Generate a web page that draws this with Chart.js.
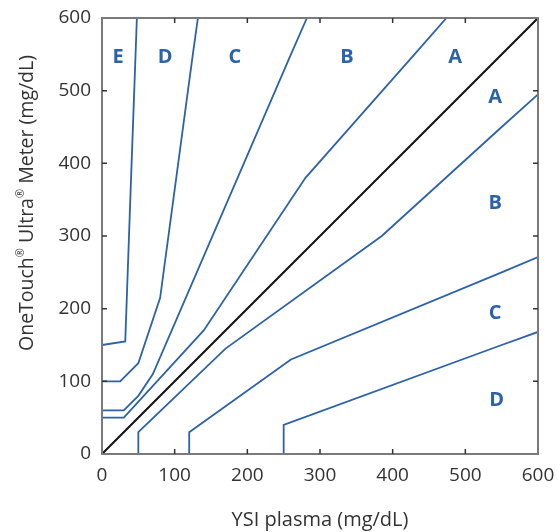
<!DOCTYPE html>
<html>
<head>
<meta charset="utf-8">
<script src="https://cdn.jsdelivr.net/npm/chart.js@4.4.1/dist/chart.umd.min.js"></script>
<style>
  html, body { margin: 0; padding: 0; background: #ffffff; }
  #wrap { width: 558px; height: 532px; }
</style>
</head>
<body>
<div id="wrap"><canvas id="c" width="558" height="532"></canvas></div>
<script>
// ---- Data (Parkes consensus error grid, type 1) ----
const tickValues = [0, 100, 200, 300, 400, 500, 600];
const xTitle = 'YSI plasma (mg/dL)';
const yTitleParts = ['OneTouch', '®', ' Ultra', '®', ' Meter (mg/dL)'];

const identityX = [0, 600];
const identityY = [0, 600];

const aUpperX = [0, 30, 140, 280, 430, 474];
const aUpperY = [50, 50, 170, 380, 550, 600];
const aLowerX = [50, 50, 170, 385, 550, 600];
const aLowerY = [0, 30, 145, 300, 450, 495];

const bUpperX = [0, 30, 50, 70, 260, 282];
const bUpperY = [60, 60, 80, 110, 550, 600];
const bLowerX = [120, 120, 260, 550, 600];
const bLowerY = [0, 30, 130, 250, 271];

const cUpperX = [0, 25, 50, 80, 125, 132];
const cUpperY = [100, 100, 125, 215, 550, 600];
const cLowerX = [250, 250, 550, 600];
const cLowerY = [0, 40, 150, 168];

const dUpperX = [0, 32, 40, 48];
const dUpperY = [150, 155, 380, 600];

const zoneLabels = ['E', 'D', 'C', 'B', 'A', 'A', 'B', 'C', 'D'];
const zoneLabelX = [22, 87, 183, 337, 486, 541, 541, 541, 543];
const zoneLabelY = [546, 546, 546, 546, 546, 491, 345, 193, 74];

// ---- Build datasets ----
const BLUE = '#2b62aa';
function pts(xs, ys) { return xs.map((x, i) => ({ x: x, y: ys[i] })); }
function boundary(xs, ys) {
  return {
    data: pts(xs, ys), showLine: true, borderColor: BLUE, borderWidth: 1.8,
    pointRadius: 0, fill: false, tension: 0
  };
}
const datasets = [
  boundary(aUpperX, aUpperY), boundary(aLowerX, aLowerY),
  boundary(bUpperX, bUpperY), boundary(bLowerX, bLowerY),
  boundary(cUpperX, cUpperY), boundary(cLowerX, cLowerY),
  boundary(dUpperX, dUpperY),
  { data: pts(identityX, identityY), showLine: true, borderColor: '#111111', borderWidth: 2,
    pointRadius: 0, fill: false }
];

const FONT = '"Open Sans", "Noto Sans", "DejaVu Sans", sans-serif';

const decorPlugin = {
  id: 'decor',
  afterDatasetsDraw(chart) {
    const { ctx, chartArea: a, scales } = chart;
    const xs = scales.x, ys = scales.y;
    ctx.save();
    // frame
    ctx.strokeStyle = '#7a7a7a';
    ctx.lineWidth = 2;
    ctx.strokeRect(a.left, a.top, a.right - a.left, a.bottom - a.top);
    // inward tick marks on all four sides
    ctx.strokeStyle = '#333333';
    ctx.lineWidth = 1.5;
    const L = 5;
    ctx.beginPath();
    tickValues.forEach(v => {
      if (v === 0 || v === 600) return;
      const px = xs.getPixelForValue(v);
      const py = ys.getPixelForValue(v);
      ctx.moveTo(px, a.bottom); ctx.lineTo(px, a.bottom - L);
      ctx.moveTo(px, a.top); ctx.lineTo(px, a.top + L);
      ctx.moveTo(a.left, py); ctx.lineTo(a.left + L, py);
      ctx.moveTo(a.right, py); ctx.lineTo(a.right - L, py);
    });
    ctx.stroke();
    // zone labels
    ctx.fillStyle = BLUE;
    ctx.font = 'bold 20px ' + FONT;
    ctx.textAlign = 'center';
    ctx.textBaseline = 'middle';
    zoneLabels.forEach((t, i) => {
      ctx.fillText(t, xs.getPixelForValue(zoneLabelX[i]), ys.getPixelForValue(zoneLabelY[i]));
    });
    // y axis title with superscript marks
    ctx.fillStyle = '#333333';
    ctx.translate(27, 203);
    ctx.rotate(-Math.PI / 2);
    ctx.textAlign = 'left';
    ctx.textBaseline = 'middle';
    const big = '500 19.5px ' + FONT, small = '500 11px ' + FONT;
    let total = 0;
    const widths = yTitleParts.map(p => {
      ctx.font = (p === '®') ? small : big;
      const w = ctx.measureText(p).width;
      total += w;
      return w;
    });
    let cx = -total / 2;
    yTitleParts.forEach((p, i) => {
      const sup = p === '®';
      ctx.font = sup ? small : big;
      ctx.fillText(p, cx, sup ? -6 : 0);
      cx += widths[i];
    });
    ctx.restore();
  }
};

new Chart(document.getElementById('c'), {
  type: 'scatter',
  data: { datasets: datasets },
  options: {
    responsive: false,
    animation: false,
    devicePixelRatio: 1,
    layout: { padding: 0 },
    plugins: { legend: { display: false }, tooltip: { enabled: false } },
    scales: {
      x: {
        type: 'linear', min: 0, max: 600,
        ticks: { stepSize: 100, color: '#333333', font: { family: FONT, size: 19, weight: 500 }, padding: 10,
                 maxRotation: 0, callback: v => String(v) },
        grid: { display: false, drawTicks: false },
        border: { display: false },
        title: { display: true, text: xTitle, color: '#333333',
                 font: { family: FONT, size: 20, weight: 500 }, padding: { top: 0, bottom: 0 } },
        afterFit(s) { s.height = 78; s.paddingLeft = 0; s.paddingRight = 20; }
      },
      y: {
        type: 'linear', min: 0, max: 600,
        ticks: { stepSize: 100, color: '#333333', font: { family: FONT, size: 19, weight: 500 }, padding: 11,
                 callback: v => String(v) },
        grid: { display: false, drawTicks: false },
        border: { display: false },
        afterFit(s) { s.width = 102; s.paddingTop = 18; s.paddingBottom = 0; }
      }
    }
  },
  plugins: [decorPlugin]
});
</script>
</body>
</html>
